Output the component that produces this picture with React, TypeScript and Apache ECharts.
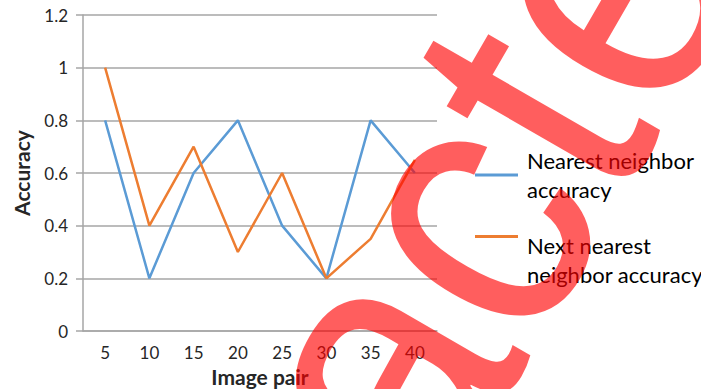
import React, { useEffect, useRef } from "react";
import * as echarts from "echarts";

// Image pair indices on the x axis
const imagePairs = ["5", "10", "15", "20", "25", "30", "35", "40"];
// Accuracy of the nearest-neighbor match
const nearestAccuracy = [0.8, 0.2, 0.6, 0.8, 0.4, 0.2, 0.8, 0.6];
// Accuracy of the next-nearest-neighbor match
const nextNearestAccuracy = [1.0, 0.4, 0.7, 0.3, 0.6, 0.2, 0.35, 0.65];

const seriesNames = ["Nearest neighbor accuracy", "Next nearest neighbor accuracy"];

const FONT = "Lato, 'Open Sans', sans-serif";
const GRID_GRAY = "#a6a6a6";
const TEXT = "#262626";
const BLUE = "#5b9bd5";
const ORANGE = "#ed7d31";

const legendText = { fontFamily: FONT, fontSize: 22, lineHeight: 29, color: "#000" };

const legendBase = {
  orient: "vertical",
  left: 470,
  itemWidth: 43,
  itemHeight: 3,
  icon: "rect",
};

export default function App() {
  const ref = useRef<HTMLDivElement>(null);

  useEffect(() => {
    document.body.style.margin = "0";
    if (!ref.current) return;
    const chart = echarts.init(ref.current, undefined, { renderer: "svg" });
    chart.setOption({
      animation: false,
      backgroundColor: "#ffffff",
      textStyle: { fontFamily: FONT },
      grid: { left: 83, right: 264, top: 15, bottom: 58, outerBoundsMode: "none" },
      legend: [
        {
          ...legendBase,
          top: 141,
          data: [seriesNames[0]],
          formatter: () => "Nearest neighbor\naccuracy",
          textStyle: { ...legendText, padding: [0, 0, 0, 4] },
        },
        {
          ...legendBase,
          top: 179,
          data: [seriesNames[1]],
          // the icon sits level with the first text line here
          formatter: () => "{pad| }\n{t|Next nearest}\n{t|neighbor accuracy}",
          textStyle: {
            ...legendText,
            padding: [0, 0, 0, 4],
            rich: {
              pad: { fontSize: 1, lineHeight: 47 },
              t: { ...legendText },
            },
          },
        },
      ],
      xAxis: {
        type: "category",
        data: imagePairs,
        boundaryGap: true,
        name: "Image pair",
        nameLocation: "middle",
        nameGap: 34,
        nameTextStyle: { fontFamily: FONT, fontSize: 21, fontWeight: "bold", color: TEXT },
        axisLine: { lineStyle: { color: GRID_GRAY, width: 1.5 } },
        axisTick: { show: false },
        axisLabel: { fontFamily: FONT, fontSize: 17, color: TEXT, margin: 13 },
      },
      yAxis: {
        type: "value",
        min: 0,
        max: 1.2,
        interval: 0.2,
        name: "Accuracy",
        nameLocation: "middle",
        nameGap: 51,
        nameTextStyle: { fontFamily: FONT, fontSize: 21, fontWeight: "bold", color: TEXT },
        axisLine: { show: true, lineStyle: { color: GRID_GRAY, width: 1.5 } },
        axisTick: { show: true, length: 7, lineStyle: { color: GRID_GRAY, width: 1.5 } },
        axisLabel: { fontFamily: FONT, fontSize: 17, color: TEXT, margin: 15 },
        splitLine: { lineStyle: { color: GRID_GRAY, width: 1.5 } },
      },
      series: [
        {
          name: seriesNames[0],
          type: "line",
          data: nearestAccuracy,
          symbol: "none",
          color: BLUE,
          lineStyle: { width: 2.5, color: BLUE },
        },
        {
          name: seriesNames[1],
          type: "line",
          data: nextNearestAccuracy,
          symbol: "none",
          color: ORANGE,
          lineStyle: { width: 2.5, color: ORANGE },
        },
      ],
      graphic: [
        {
          // diagonal stamp across the plot
          type: "text",
          z: 100,
          x: 372,
          y: 372,
          rotation: (60 * Math.PI) / 180,
          scaleX: 0.9,
          style: {
            text: "Retracted",
            x: 0,
            y: 0,
            align: "center",
            verticalAlign: "middle",
            font: "375px 'Liberation Sans', Arial, sans-serif",
            fill: "rgba(255, 0, 0, 0.63)",
          },
        },
      ],
    });
    return () => chart.dispose();
  }, []);

  return <div ref={ref} style={{ width: 701, height: 389 }} />;
}
